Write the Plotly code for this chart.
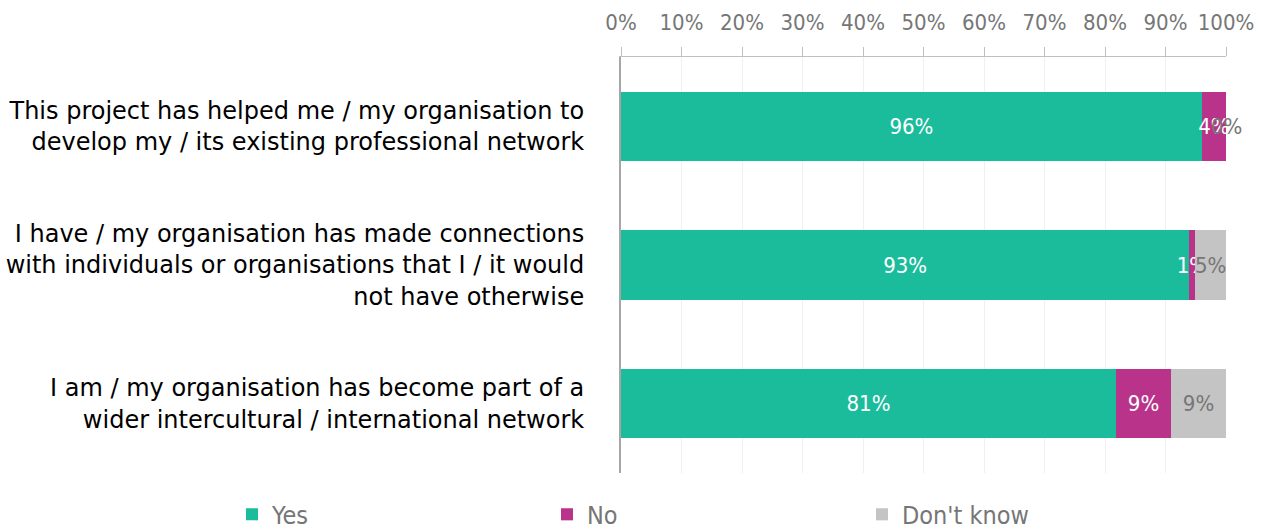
import plotly.graph_objects as go

statements = [
    "This project has helped me / my organisation to<br>develop my / its existing professional network",
    "I have / my organisation has made connections<br>with individuals or organisations that I / it would<br>not have otherwise",
    "I am / my organisation has become part of a<br>wider intercultural / international network",
]
yes_pct = [96, 93, 81]
no_pct = [4, 1, 9]
dont_know_pct = [0, 5, 9]

series = [
    ("Yes", yes_pct, "#1abc9c", "#ffffff"),
    ("No", no_pct, "#b9338a", "#ffffff"),
    ("Don't know", dont_know_pct, "#c4c4c4", "#767676"),
]

label_font = "DejaVu Sans Condensed"
value_size = 22

fig = go.Figure()
for name, vals, color, txtcolor in series:
    fig.add_trace(go.Bar(
        name=name,
        y=statements,
        x=vals,
        orientation="h",
        marker=dict(color=color, line=dict(width=0)),
        text=[f"{v}%" for v in vals],
        textposition="inside",
        insidetextanchor="middle",
        textangle=0,
        insidetextfont=dict(color=txtcolor, size=value_size, family=label_font),
        textfont=dict(color=txtcolor, size=value_size, family=label_font),
        constraintext="none",
    ))

# Zero-width segments cannot hold inside text, so their labels sit at the
# segment's position on the (row-normalised) stacked scale.
cum = [0.0] * len(statements)
totals = [sum(v) for v in zip(yes_pct, no_pct, dont_know_pct)]
for name, vals, color, txtcolor in series:
    for i, v in enumerate(vals):
        start = cum[i]
        cum[i] += v
        if v == 0:
            fig.add_annotation(
                x=100 * start / totals[i], y=statements[i],
                text=f"{v}%", showarrow=False,
                xanchor="center", yanchor="middle",
                font=dict(color=txtcolor, size=value_size, family=label_font),
            )

fig.update_layout(
    barmode="stack",
    barnorm="percent",
    bargap=0.5,
    width=1270,
    height=532,
    margin=dict(l=621, r=44, t=57, b=59, autoexpand=False),
    paper_bgcolor="white",
    plot_bgcolor="white",
    legend=dict(
        orientation="h",
        x=-0.643,
        xanchor="left",
        y=-0.1,
        yanchor="middle",
        entrywidth=270,
        entrywidthmode="pixels",
        itemwidth=30,
        font=dict(size=25, color="#767676", family=label_font),
        traceorder="normal",
    ),
    xaxis=dict(
        side="top",
        range=[0, 100],
        tickvals=[0, 10, 20, 30, 40, 50, 60, 70, 80, 90, 100],
        ticktext=[f"{v}%" for v in range(0, 101, 10)],
        tickfont=dict(size=22, color="#767676", family=label_font),
        ticks="outside",
        ticklen=9,
        tickcolor="#bfbfbf",
        ticklabelstandoff=8,
        showgrid=True,
        gridcolor="#f0f0f0",
        gridwidth=1,
        showline=True,
        linecolor="#bfbfbf",
        linewidth=1,
        zeroline=False,
        fixedrange=True,
    ),
    yaxis=dict(
        autorange="reversed",
        tickfont=dict(size=24, color="#000000", family="DejaVu Sans"),
        showline=True,
        linecolor="#a6a6a6",
        linewidth=2,
        ticks="",
        ticklabelstandoff=30,
        showgrid=False,
        fixedrange=True,
    ),
)

fig.write_html("out.html")
